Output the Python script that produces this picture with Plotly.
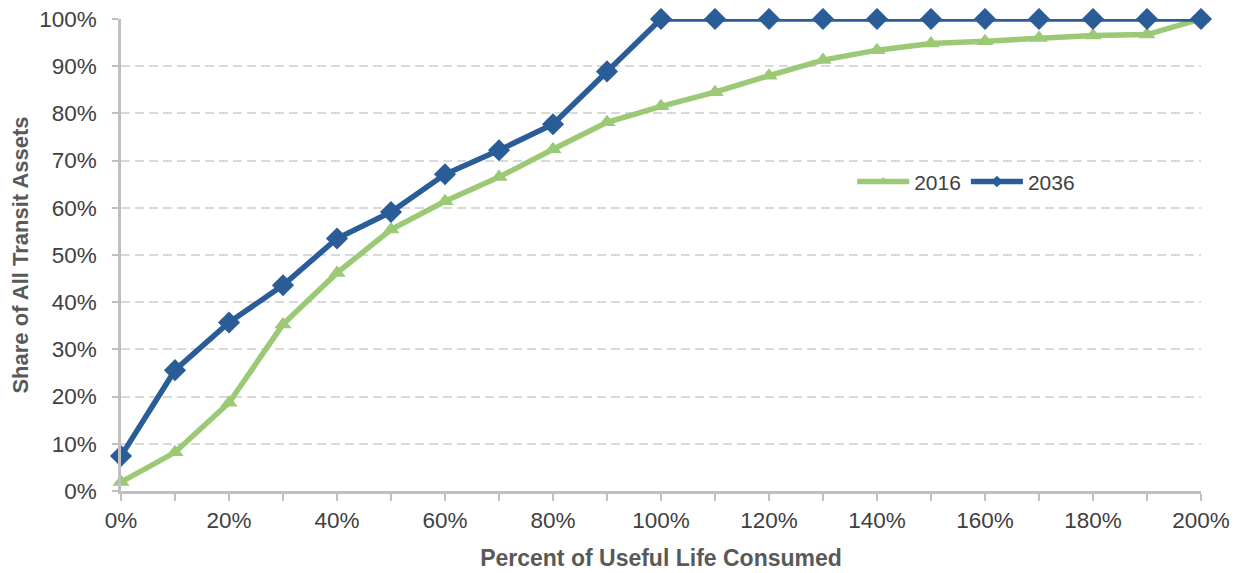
import plotly.graph_objects as go

life_consumed = [0, 10, 20, 30, 40, 50, 60, 70, 80, 90, 100, 110, 120, 130, 140, 150, 160, 170, 180, 190, 200]
share_2016 = [1.9, 8.2, 18.7, 35.3, 46.2, 55.4, 61.4, 66.5, 72.4, 78.1, 81.5, 84.5, 88.0, 91.3, 93.4, 94.8, 95.3, 96.0, 96.5, 96.7, 100.0]
share_2036 = [7.4, 25.6, 35.7, 43.6, 53.5, 59.1, 67.1, 72.2, 77.7, 88.9, 100, 100, 100, 100, 100, 100, 100, 100, 100, 100, 100]
series_names = ["2016", "2036"]

GREEN = "#9BC975"
BLUE = "#2A5C97"
FONT = "Liberation Sans, Arial, sans-serif"

fig = go.Figure()
specs = [
    (series_names[0], share_2016, GREEN, "triangle-up", 15),
    (series_names[1], share_2036, BLUE, "diamond", 17),
]
for name, vals, color, symbol, msize in specs:
    # line (clipped to the plot area) with a small marker used by the legend
    fig.add_trace(go.Scatter(
        x=life_consumed, y=vals, name=name, legendgroup=name, mode="lines+markers",
        line=dict(color=color, width=5.5),
        marker=dict(symbol=symbol, size=9, color=color),
        cliponaxis=True,
    ))
    # full-size markers, not clipped
    fig.add_trace(go.Scatter(
        x=life_consumed, y=vals, name=name, legendgroup=name, mode="markers",
        marker=dict(symbol=symbol, size=msize, color=color),
        cliponaxis=False, showlegend=False, hoverinfo="skip",
    ))

# the page body adds an 8px offset, so the figure is 8px smaller on each side
fig.update_layout(
    width=1230, height=565,
    margin=dict(l=113, r=37, t=11, b=82),
    paper_bgcolor="white", plot_bgcolor="white",
    font=dict(family=FONT, color="#404040"),
    showlegend=True,
    legend=dict(
        orientation="h", x=0.677, y=0.655, xanchor="left", yanchor="middle",
        font=dict(size=21, color="#404040"), bgcolor="rgba(0,0,0,0)",
        itemwidth=52, tracegroupgap=0,
    ),
)
fig.update_xaxes(
    range=[0, 200], tickvals=list(range(0, 201, 20)),
    ticktext=[f"{v}%" for v in range(0, 201, 20)],
    ticks="outside", ticklen=7, tickwidth=2, tickcolor="#BFBFBF",
    minor=dict(tickvals=list(range(10, 200, 20)), ticks="outside", ticklen=7, tickwidth=2, tickcolor="#BFBFBF", showgrid=False),
    showline=True, linecolor="#BFBFBF", linewidth=2.5,
    showgrid=False, zeroline=False, automargin=False, ticklabeloverflow="allow",
    tickfont=dict(size=22.5, color="#404040"),
    title=dict(text="<b>Percent of Useful Life Consumed</b>", font=dict(size=23, color="#595959"), standoff=19),
)
fig.update_yaxes(
    range=[0, 100], tickvals=list(range(0, 101, 10)),
    ticktext=[f"{v}%" for v in range(0, 101, 10)],
    ticks="outside", ticklen=6, tickwidth=2, tickcolor="#BFBFBF",
    ticklabelstandoff=11,
    showline=True, linecolor="#BFBFBF", linewidth=2.5,
    showgrid=True, gridcolor="#D9D9D9", gridwidth=2, griddash="9px,5px",
    zeroline=False, automargin=False, ticklabeloverflow="allow",
    tickfont=dict(size=22.5, color="#404040"),
    title=dict(text="<b>Share of All Transit Assets</b>", font=dict(size=22, color="#595959"), standoff=5),
)

fig.write_html("out.html")
